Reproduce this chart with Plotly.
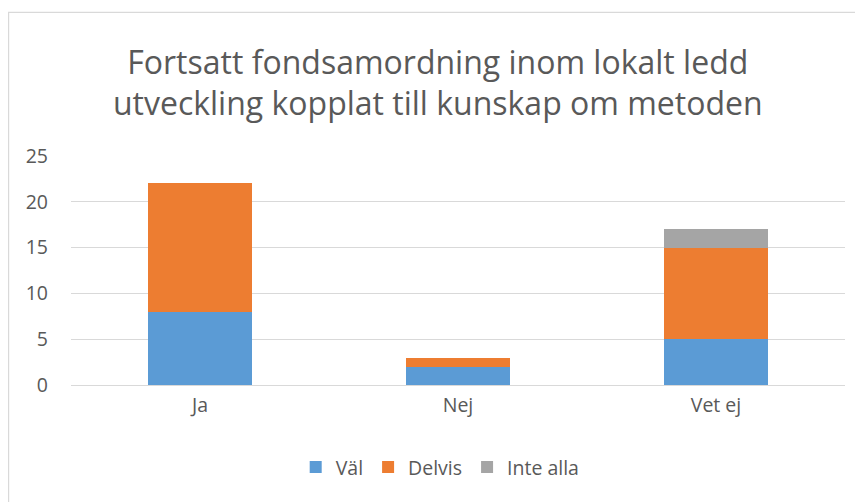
import plotly.graph_objects as go

categories = ["Ja", "Nej", "Vet ej"]
val = [8, 2, 5]
delvis = [14, 1, 10]
inte_alla = [0, 0, 2]

series = [("Väl", val, "#5B9BD5"), ("Delvis", delvis, "#ED7D31"), ("Inte alla", inte_alla, "#A5A5A5")]

fig = go.Figure()
for name, vals, color in series:
    fig.add_trace(go.Bar(name=name, x=categories, y=vals, marker=dict(color=color, line=dict(width=0))))

font = "Open Sans, Liberation Sans, sans-serif"
fig.update_layout(
    barmode="stack",
    bargap=0.6,
    width=863, height=502,
    margin=dict(l=63, r=26, t=148, b=125),
    paper_bgcolor="white", plot_bgcolor="white",
    font=dict(family=font, color="#595959", size=19),
    title=dict(text="Fortsatt fondsamordning inom lokalt ledd<br>utveckling kopplat till kunskap om metoden",
               x=0.498, xanchor="center", y=0.869, yanchor="middle",
               font=dict(size=32, color="#595959", family=font)),
    legend=dict(orientation="h", x=0.477, xanchor="center", y=-0.36, yanchor="middle",
                font=dict(size=19.5, color="#595959"), itemwidth=30, traceorder="normal"),
    showlegend=True,
)
fig.update_yaxes(range=[0, 25], dtick=5, showgrid=True, gridcolor="#D9D9D9", gridwidth=1.3,
                 zeroline=True, zerolinecolor="#D9D9D9", zerolinewidth=1.3, ticks="", ticklabelstandoff=22,
                 tickfont=dict(size=19.5, color="#595959"))
fig.update_xaxes(showline=False, ticks="", tickfont=dict(size=19.5, color="#595959"), ticklabelstandoff=6)
fig.add_shape(type="rect", xref="paper", yref="paper", x0=-0.0807, x1=1.2, y0=-0.8, y1=1.627,
              line=dict(color="#D9D9D9", width=1.3), fillcolor="rgba(0,0,0,0)", layer="below")
fig.write_html("out.html")
